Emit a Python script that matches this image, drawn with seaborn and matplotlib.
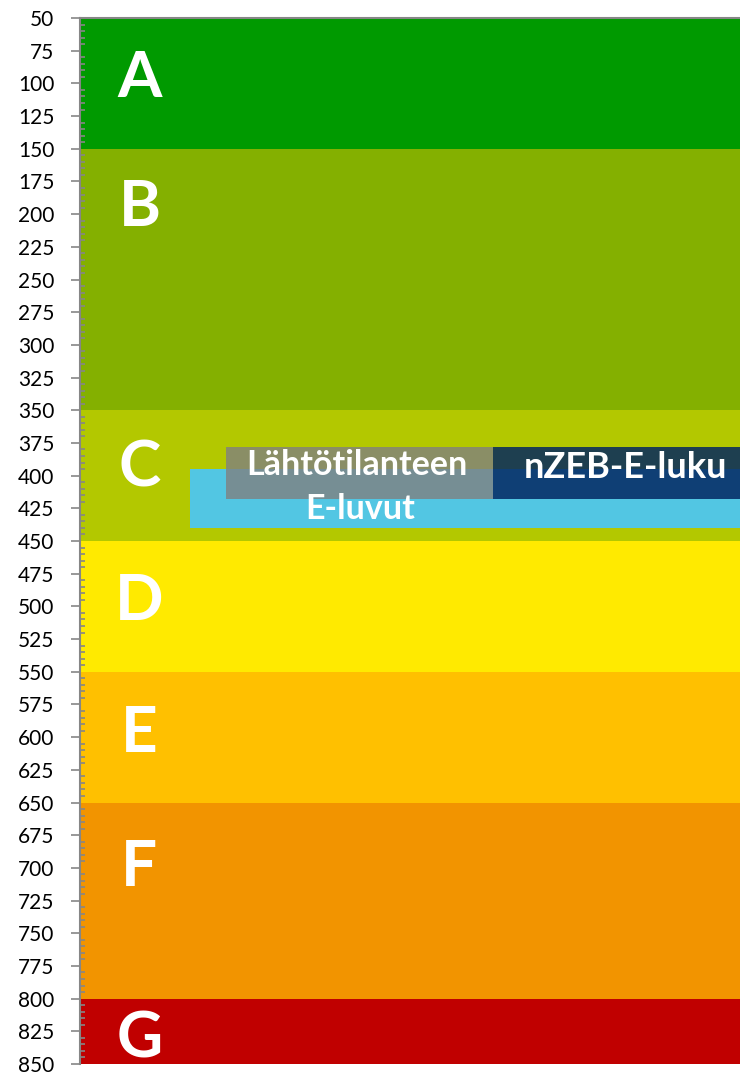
import matplotlib.pyplot as plt
import seaborn as sns
import numpy as np

# energy classes (E-luku bands, kWh/m2)
classes = ['A', 'B', 'C', 'D', 'E', 'F', 'G']
band_start = [50, 150, 350, 450, 550, 650, 800]
band_end = [150, 350, 450, 550, 650, 800, 850]
band_colors = ['#009a00', '#84b000', '#b3c800', '#ffea00', '#ffc000', '#f29400', '#c00000']
letter_y = [96, 195, 394, 496, 597, 700, 831]

# overlay ranges
start_range = (395, 440)      # Lähtötilanteen E-luvut
label_range = (378, 418)
nzeb_range = (378, 418)

sns.set_theme(style='white')
plt.rcParams['font.family'] = ['Lato', 'DejaVu Sans']

fig = plt.figure(figsize=(7.4, 10.74), dpi=100)
ax = fig.add_axes([80 / 740, 1 - 1064 / 1074, 660 / 740, 1046 / 1074])

heights = np.array(band_end) - np.array(band_start)
ax.barh(band_start, [1] * len(classes), height=heights, left=0, align='edge',
        color=band_colors, linewidth=0)

for c, y in zip(classes, letter_y):
    ax.text(0.09, y, c, color='white', fontsize=46, fontweight='bold',
            ha='center', va='center')

# overlay boxes
ax.barh(start_range[0], 1 - 0.167, left=0.167, height=start_range[1] - start_range[0],
        align='edge', color='#52c6e3', linewidth=0)
ax.barh(label_range[0], 0.626 - 0.221, left=0.221, height=label_range[1] - label_range[0],
        align='edge', color='#808080', alpha=0.8, linewidth=0)
ax.barh(nzeb_range[0], 1 - 0.626, left=0.626, height=nzeb_range[1] - nzeb_range[0],
        align='edge', color='#022560', alpha=0.84, linewidth=0)

ax.text(0.42, 391.5, 'Lähtötilanteen', color='white', fontsize=24.5, fontweight='bold',
        ha='center', va='center')
ax.text(0.424, 425.5, 'E-luvut', color='white', fontsize=24.5, fontweight='bold',
        ha='center', va='center')
ax.text(0.826, 394, 'nZEB-E-luku', color='white', fontsize=26, fontweight='bold',
        ha='center', va='center')

ax.set_xlim(0, 1)
ax.set_ylim(850, 50)
ax.set_yticks(np.arange(50, 851, 25))
ax.set_yticks(np.arange(50, 851, 5), minor=True)
ax.set_xticks([])
ax.tick_params(axis='y', which='major', direction='out', length=6.5, width=1.2,
               color='#868686', labelsize=15, pad=12, left=True, labelcolor='black')
ax.tick_params(axis='y', which='minor', direction='in', length=3.5, width=1.2,
               color='#868686', left=True)

for side in ['right', 'bottom']:
    ax.spines[side].set_visible(False)
for side in ['left', 'top']:
    ax.spines[side].set_color('#868686')
    ax.spines[side].set_linewidth(1.5)
ax.set_axisbelow(False)

fig.savefig('out.png', dpi=100)
